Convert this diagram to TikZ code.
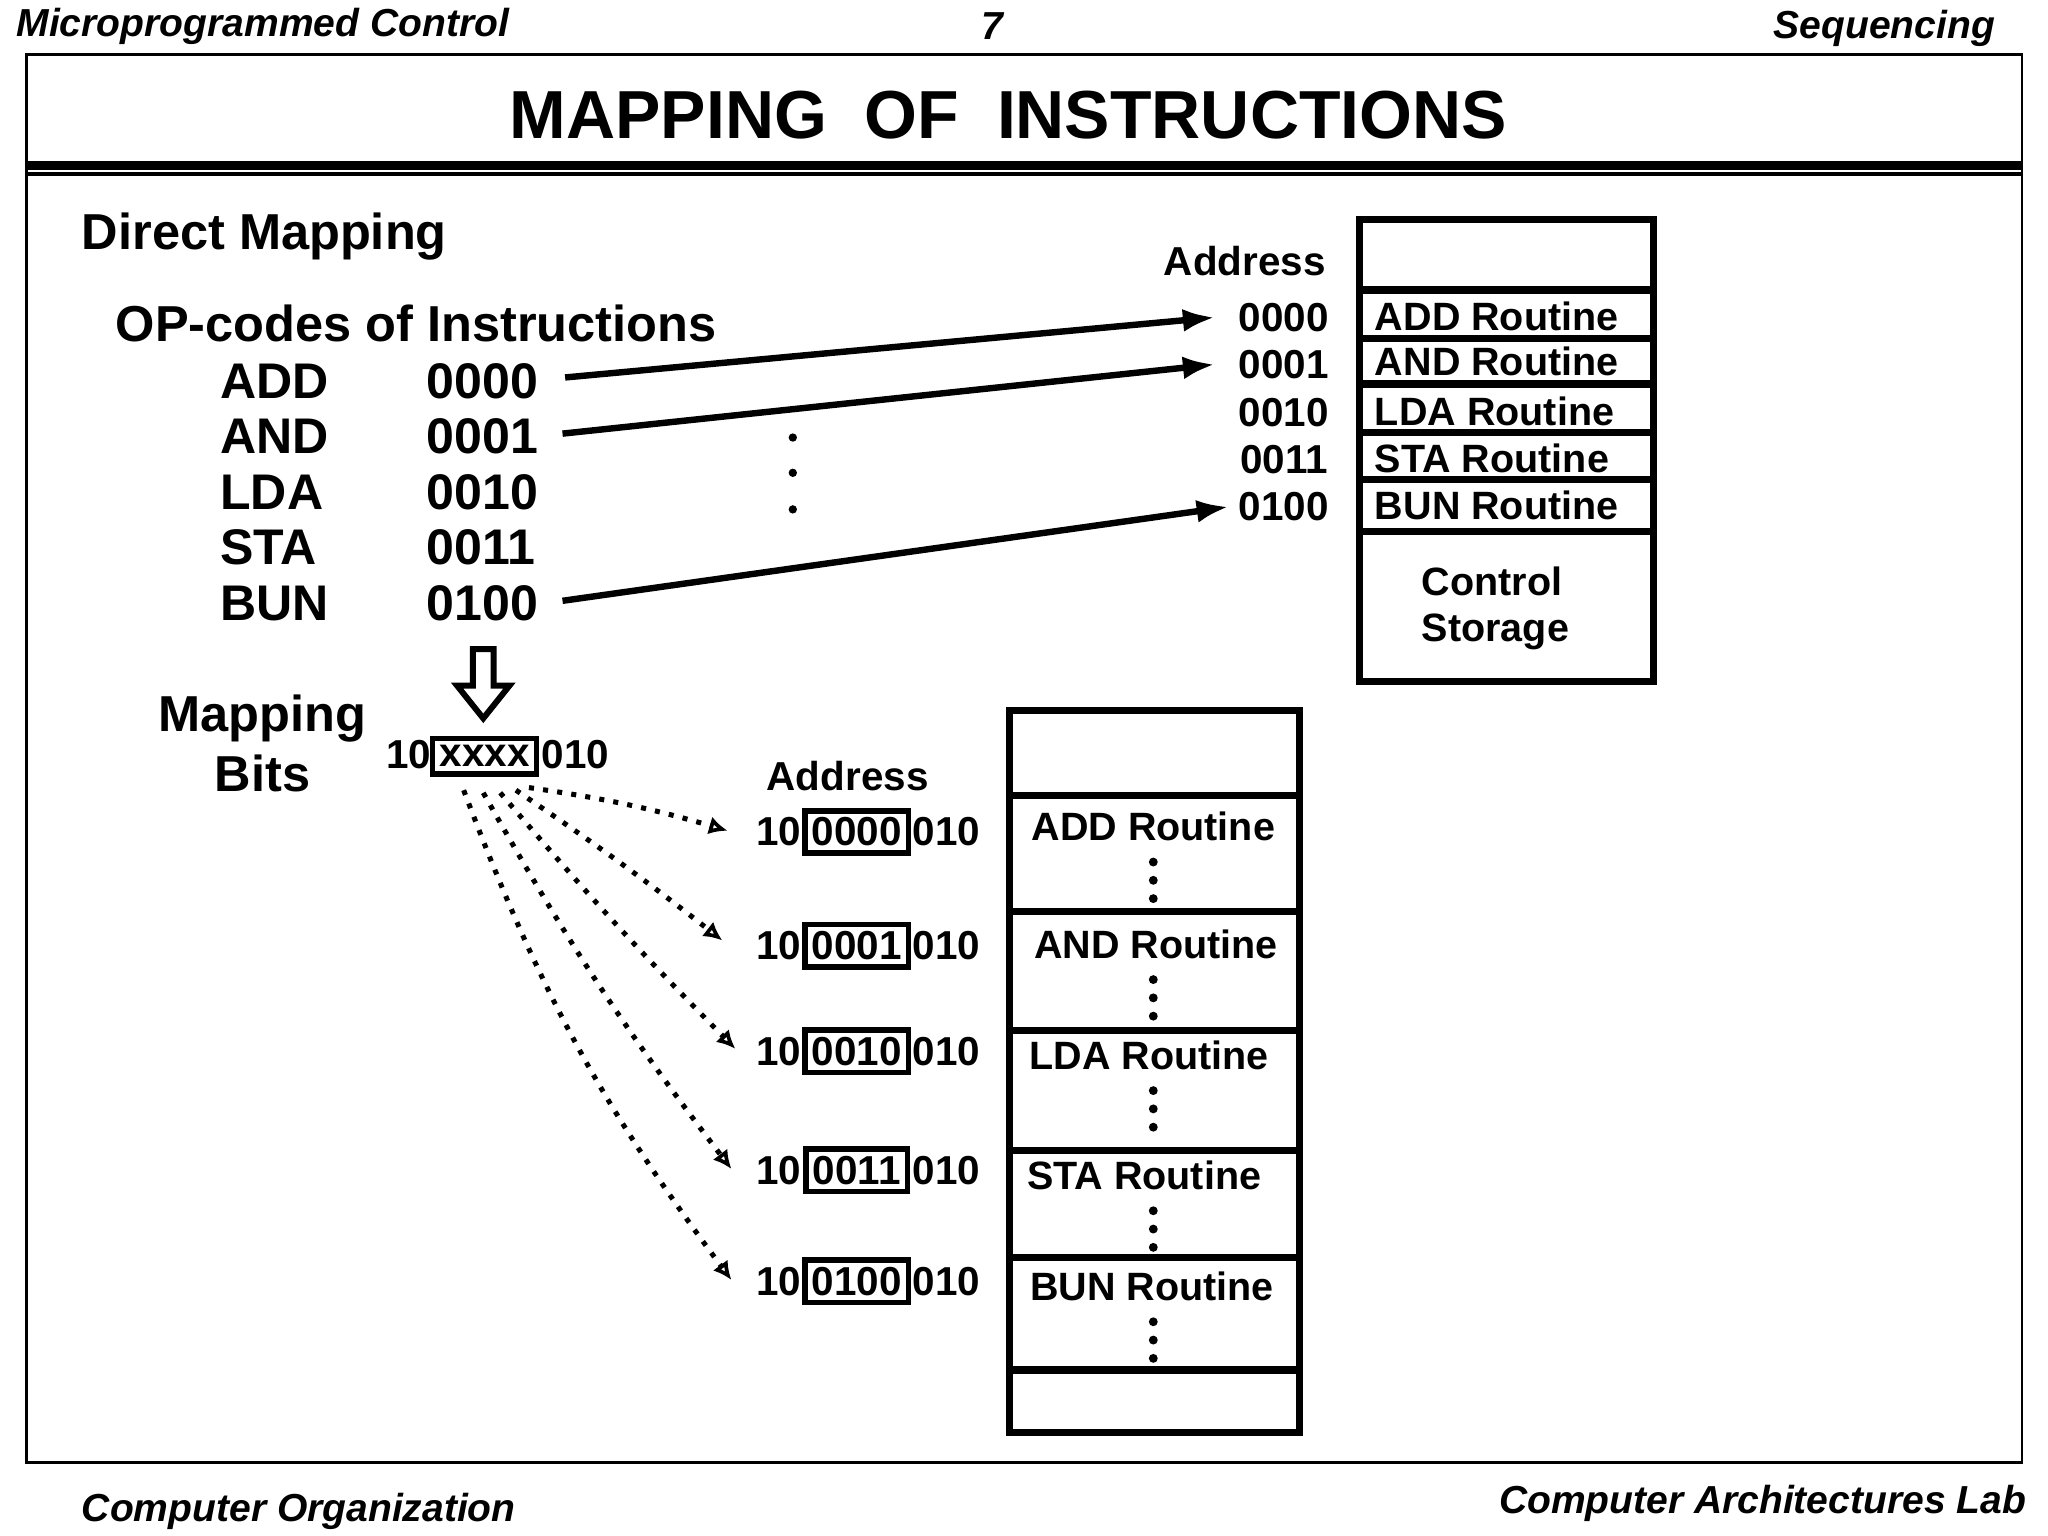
\documentclass[tikz,border=0pt]{standalone}
\usepackage{fontspec}
\setmainfont{Liberation Sans}
\usetikzlibrary{arrows.meta}
\begin{document}
\begin{tikzpicture}[x=0.01cm,y=-0.01cm,
 every node/.style={font=\bfseries, inner sep=0pt},
 hdr/.style={font=\bfseries\itshape\fontsize{8.5}{10}\selectfont},
 big/.style={font=\bfseries\fontsize{10.9}{12}\selectfont},
 mid/.style={font=\bfseries\fontsize{11}{13}\selectfont},
 sm/.style={font=\bfseries\fontsize{8.8}{10}\selectfont},
 rt/.style={font=\bfseries\fontsize{8.6}{10}\selectfont},
 arr/.style={line width=1.4pt,-{Latex[length=7pt,width=5pt]}},
 dot/.style={dotted,line width=1.1pt,-{Latex[open,length=4pt,width=4pt]}},
 bx/.style={draw,line width=1.2pt,inner sep=1.5pt}]
\useasboundingbox (0,0) rectangle (1568,1176);
\node[hdr,anchor=west] (h1) at (12,20) {Microprogrammed Control};
\node[hdr] (h2) at (760,20) {7};
\node[hdr,anchor=east] (h3) at (1528,22) {Sequencing};
\node[hdr,anchor=west] (f1) at (62,1157) {Computer Organization};
\node[hdr,anchor=east] (f2) at (1552,1151) {Computer Architectures Lab};
\draw[line width=0.6pt] (20,42) rectangle (1548,1120);
\draw[line width=2pt] (20,127) -- (1548,127);
\draw[line width=0.8pt] (20,133) -- (1548,133);
\node[font=\bfseries\fontsize{14.8}{18}\selectfont] (title) at (772,88) {MAPPING\ \ OF\ \ INSTRUCTIONS};
\node[mid,anchor=west] (dm) at (62,181) {Direct Mapping};
\node[mid,anchor=west] (op) at (88,248) {OP-codes of Instructions};
\foreach \n/\c/\y [count=\i] in {ADD/0000/292,AND/0001/334,LDA/0010/377,STA/0011/419,BUN/0100/462}{
  \node[big,anchor=west] (n\i) at (168,\y) {\n};
  \node[big,anchor=west] (c\i) at (326,\y) {\c};
}
\foreach \y in {335,362,390} \fill (607,\y) circle (3.2);
\node[sm] (adr) at (953,200) {Address};
\foreach \c/\y [count=\i] in {0000/243,0001/279,0010/316,0011/352,0100/388}
  \node[sm] (a\i) at (983,\y) {\c};
\draw[arr] (c1.east)++(20,-3) -- ([xshift=-5pt]a1.west);
\draw[arr] (c2.east)++(18,-2) -- ([xshift=-5pt]a2.west);
\draw[arr] (c5.east)++(18,-2) -- ([xshift=-2pt]a5.west);
\draw[line width=1.6pt] (1041,168) rectangle (1266,522);
\foreach \y in {222,259,294,331,367,407} \draw[line width=1.6pt] (1041,\y) -- (1266,\y);
\foreach \r/\y [count=\i] in {ADD/242,AND/277,LDA/315,STA/351,BUN/387}
  \node[rt,anchor=west] (r\i) at (1052,\y) {\r{} Routine};
\node[rt,align=left,anchor=west] (cs) at (1088,466) {Control\\Storage};
% down arrow
\draw[line width=1.3pt,fill=white] (362,497) -- (378,497) -- (378,525) -- (390,525) -- (370,550) -- (350,525) -- (362,525) -- cycle;
\node[mid,align=center] (mb) at (201,569) {Mapping\\Bits};
\node[sm,anchor=east] (m10) at (331,578) {10};
\node[sm,bx] (mx) at (371,579) {xxxx};
\node[sm,anchor=west] (m010) at (414,578) {010};
\node[sm] (adr2) at (649,594) {Address};
\foreach \c/\y [count=\i] in {0000/637,0001/724,0010/805,0011/896,0100/981}{
  \node[sm,anchor=east] (p\i) at (614,\y) {10};
  \node[sm,bx] (b\i) at (656,\y) {\c};
  \node[sm,anchor=west] (q\i) at (698,\y) {010};
}
\coordinate (s1) at (405,603); \coordinate (s2) at (395,605); \coordinate (s3) at (383,607);
\coordinate (s4) at (370,607); \coordinate (s5) at (355,605);
\coordinate (e1) at (557,636); \coordinate (e2) at (553,720); \coordinate (e3) at (563,803);
\coordinate (e4) at (560,895); \coordinate (e5) at (560,980);
\draw[dot] (s1) to[bend left=4] (e1);
\draw[dot] (s2) to[bend left=2] (e2);
\draw[dot] (s3) to[bend right=2] (e3);
\draw[dot] (s4) to[bend right=4] (e4);
\draw[dot] (s5) to[bend right=8] (e5);
\draw[line width=1.6pt] (773,544) rectangle (995,1097);
\foreach \y in {609,698,789,881,963,1049} \draw[line width=1.6pt] (773,\y) -- (995,\y);
\foreach \r/\y/\x [count=\i] in {ADD/633/883,AND/723/885,LDA/808/880,STA/900/876,BUN/985/882}{
  \node[rt] (lr\i) at (\x,\y) {\r{} Routine};
  \foreach \d in {27,41,55} \fill (883,\y+\d) circle (3.4);
}
\end{tikzpicture}
\end{document}
